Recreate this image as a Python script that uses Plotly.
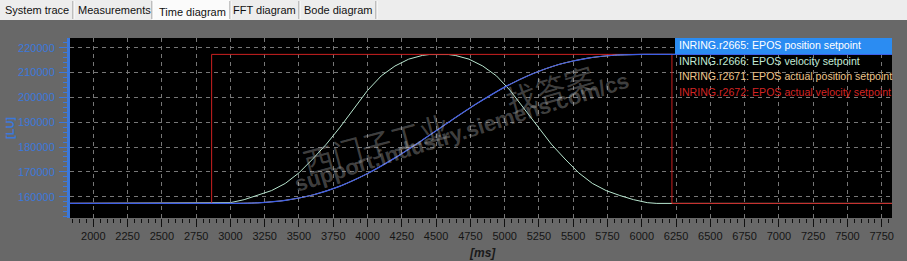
import plotly.graph_objects as go

# ---------------- data ----------------
time_pos = [1830, 2930, 3000, 3200, 3400, 3600, 3800, 4000, 4200, 4400, 4520, 4600,
            4800, 5000, 5200, 5400, 5600, 5800, 6000, 6110, 7830]
pos_setpoint = [157300, 157300, 157300, 157540, 158520, 160680, 164270, 169320, 175630,
                182800, 187300, 190310, 197580, 204130, 209430, 213320, 215730, 216950,
                217280, 217300, 217300]

time_vel = [1830, 2930, 3000, 3100, 3200, 3300, 3400, 3500, 3600, 3700, 3800, 3900, 4000,
            4100, 4200, 4300, 4400, 4450, 4520, 4590, 4640, 4740, 4840, 4940, 5040, 5140,
            5240, 5340, 5440, 5540, 5640, 5740, 5840, 5940, 6040, 6110, 7830]
vel_setpoint = [157300, 157300, 157600, 158800, 160480, 162460, 165340, 169600, 175180,
                181180, 188020, 195460, 202780, 208660, 212620, 215380, 216880, 217240,
                217300, 217240, 216880, 215380, 212620, 208660, 202780, 195460, 188020,
                181180, 175180, 169600, 165340, 162460, 160480, 158800, 157600, 157300,
                157300]

time_step = [1830, 2863, 6220, 7830]
act_vel = [157300, 217300, 157300, 157300]

legend_names = ["INRING.r2665: EPOS position setpoint",
                "INRING.r2666: EPOS velocity setpoint",
                "INRING.r2671: EPOS actual position setpoint",
                "INRING.r2672: EPOS actual velocity setpoint"]
legend_colors = ["#ffffff", "#c2ead6", "#eec48a", "#d42424"]

tab_labels = ["System trace", "Measurements", "Time diagram", "FFT diagram", "Bode diagram"]
x_ticks = list(range(2000, 7751, 250))
y_ticks = list(range(160000, 220001, 10000))

# ---------------- geometry helpers ----------------
W, H = 907, 261
L, R, T, B = 70, 892, 38, 218


def px(x):
    return (x - L) / (R - L)


def py(y):
    return (B - y) / (B - T)


BLUE = "#3d5fe8"
GREEN = "#b8e6cf"
RED = "#cc2020"
ORANGE = "#eec48a"
BG = "#686868"
AXBLUE = "#3b78dc"

fig = go.Figure()
fig.add_trace(go.Scatter(x=time_vel, y=vel_setpoint, mode="lines", line=dict(color=GREEN, width=1),
                         name=legend_names[1], showlegend=False, hoverinfo="skip"))
fig.add_trace(go.Scatter(x=time_step, y=act_vel, mode="lines", line=dict(color=RED, width=1, shape="hv"),
                         name=legend_names[3], showlegend=False, hoverinfo="skip"))
fig.add_trace(go.Scatter(x=time_pos, y=pos_setpoint, mode="lines", line=dict(color=ORANGE, width=1, shape="spline", smoothing=0.8),
                         name=legend_names[2], showlegend=False, hoverinfo="skip"))
fig.add_trace(go.Scatter(x=time_pos, y=pos_setpoint, mode="lines", line=dict(color=BLUE, width=1.2, shape="spline", smoothing=0.8),
                         name=legend_names[0], showlegend=False, hoverinfo="skip"))

shapes = []
annotations = []


def note(text, x, y, size, color, family="Liberation Sans", angle=0, xanchor="center"):
    annotations.append(dict(text=text, xref="paper", yref="paper", x=px(x), y=py(y), xanchor=xanchor,
                            yanchor="middle", showarrow=False, textangle=angle,
                            font=dict(family=family, size=size, color=color)))


# tab strip
shapes.append(dict(type="rect", xref="paper", yref="paper", x0=px(0), x1=px(W), y0=py(20), y1=py(0),
                   fillcolor="#ededed", line=dict(width=0), layer="below"))
shapes.append(dict(type="rect", xref="paper", yref="paper", x0=px(152), x1=px(230), y0=py(20), y1=py(0),
                   fillcolor="#fbfbfb", line=dict(width=0), layer="below"))
for sx in [73, 152, 230, 299, 376]:
    shapes.append(dict(type="line", xref="paper", yref="paper", x0=px(sx), x1=px(sx), y0=py(19), y1=py(1),
                       line=dict(color="#8e8e8e", width=1), layer="below"))
    shapes.append(dict(type="line", xref="paper", yref="paper", x0=px(sx + 1), x1=px(sx + 1), y0=py(19), y1=py(1),
                       line=dict(color="#ffffff", width=1), layer="below"))
tab_cx = [37, 114, 192, 264.5, 338.5]
tab_cy = [10, 10, 11.5, 10, 10]
for lab, cx, cy in zip(tab_labels, tab_cx, tab_cy):
    note(lab, cx, cy, 11, "#111111")

# legend (custom, top-right)
shapes.append(dict(type="rect", xref="paper", yref="paper", x0=px(675), x1=px(892), y0=py(54), y1=py(38),
                   fillcolor="#2b8cf2", line=dict(width=0), layer="above"))
leg_y = [45.5, 61, 76, 91.5]
for name, col, ly in zip(legend_names, legend_colors, leg_y):
    note(name, 677, ly, 10.6, col, xanchor="left")

# watermark
wm = "rgba(200,200,200,0.33)"
note("西门子工业", 376, 143, 30, wm, family="Noto Sans CJK SC", angle=-15)
note("<b>support.industry.siemens.com/cs</b>", 461, 132, 22, wm, angle=-17.5)
note("找答案", 550, 88, 30, wm, family="Noto Sans CJK SC", angle=-16)

# axis titles
note("<b>[LU]</b>", 10, 128, 11, AXBLUE, angle=-90)
note("<b><i>[ms]</i></b>", 482, 253, 12, "#1a1a1a")

fig.update_layout(
    width=W, height=H,
    margin=dict(l=L, r=W - R, t=T, b=H - B, pad=0),
    paper_bgcolor=BG, plot_bgcolor="#000000",
    showlegend=False,
    shapes=shapes, annotations=annotations,
    xaxis=dict(range=[1830, 7825], tickvals=x_ticks, ticktext=[str(v) for v in x_ticks],
               showgrid=True, gridcolor="#777777", griddash="4px,4px", gridwidth=1,
               zeroline=False, showline=False,
               ticks="outside", ticklen=8, tickcolor="#111111", tickwidth=1,
               minor=dict(dtick=50, tick0=0, ticks="outside", ticklen=4, tickcolor="#111111", showgrid=False),
               tickfont=dict(family="Liberation Sans", size=11, color="#151515")),
    yaxis=dict(range=[151420, 223900], tickvals=y_ticks, ticktext=[str(v) for v in y_ticks],
               showgrid=True, gridcolor="#777777", griddash="4px,4px", gridwidth=1,
               zeroline=False, showline=True, linecolor=AXBLUE, linewidth=3,
               ticks="outside", ticklen=8, tickcolor=AXBLUE, tickwidth=1,
               minor=dict(dtick=2000, tick0=0, ticks="outside", ticklen=4, tickcolor=AXBLUE, showgrid=False),
               ticklabelstandoff=2,
               tickfont=dict(family="Liberation Sans", size=11, color=AXBLUE)),
)

fig.write_html("out.html")
